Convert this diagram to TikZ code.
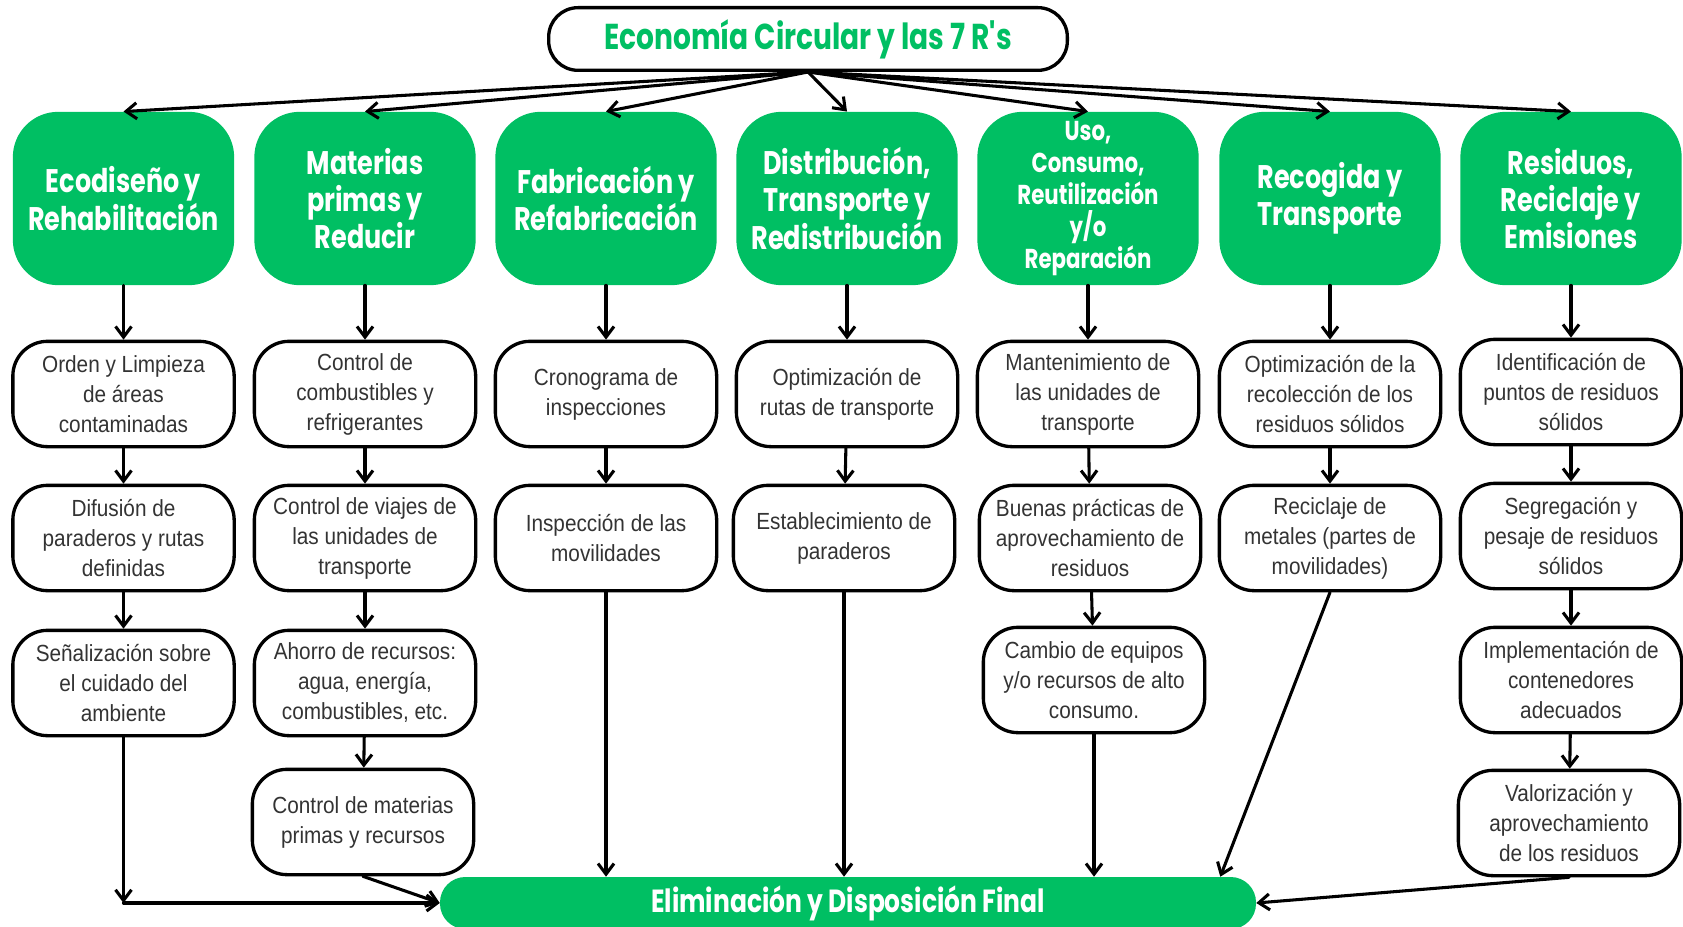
\documentclass[tikz,border=0pt]{standalone}
\usepackage{fontspec}
\setmainfont{Liberation Sans}[FakeStretch=0.89]
\newfontfamily\rotulo{Poppins}[FakeStretch=0.78]
\usetikzlibrary{arrows.meta}
\definecolor{verde}{HTML}{00BF63}
\definecolor{grist}{HTML}{333333}
\begin{document}
\begin{tikzpicture}[>={Straight Barb[length=8pt,width=12pt]}, x=0.75pt, y=-0.75pt, line join=round, line cap=round,
 titulo/.style={draw, line width=2.5pt, rounded corners=22pt, fill=white, minimum width=389pt, minimum height=47pt, text=verde, font=\rotulo\bfseries\fontsize{27}{30}\selectfont},
 etapa/.style={fill=verde, rounded corners=34pt, minimum width=166pt, minimum height=130pt, inner sep=2pt, align=center, text=white, font=\rotulo\bfseries\fontsize{24.5}{28}\selectfont},
 accion/.style={draw, line width=2.5pt, rounded corners=26pt, minimum width=166pt, minimum height=79pt, inner sep=1pt, align=center, text=grist, font=\fontsize{17.5}{22.5}\selectfont},
 final/.style={fill=verde, rounded corners=19pt, minimum width=612pt, minimum height=39pt, text=white, font=\rotulo\bfseries\fontsize{24}{28}\selectfont},
 flecha/.style={->, line width=2.3pt}]
\useasboundingbox (0,0) rectangle (1683,927);
\clip (0,0) rectangle (1683,927);
% titulo
\node[titulo] (tit) at (808,39) {Economía Circular y las 7 R's};
% las 7 etapas
\node[etapa] (e1) at (123.5,198.5) {Ecodiseño y\\Rehabilitación};
\node[etapa] (e2) at (365,198.5) {Materias\\primas y\\Reducir};
\node[etapa] (e3) at (606,198.5) {Fabricación y\\Refabricación};
\node[etapa] (e4) at (847,198.5) {Distribución,\\Transporte y\\Redistribución};
\node[etapa, font=\rotulo\bfseries\fontsize{20.5}{24}\selectfont] (e5) at (1088,198.5) {Uso,\\Consumo,\\Reutilización\\y/o\\Reparación};
\node[etapa] (e6) at (1330,198.5) {Recogida y\\Transporte};
\node[etapa] (e7) at (1571,198.5) {Residuos,\\Reciclaje y\\Emisiones};
% acciones de cada etapa
\node[accion] (a11) at (123.5,394) {Orden y Limpieza\\de áreas\\contaminadas};
\node[accion] (a12) at (123.5,538) {Difusión de\\paraderos y rutas\\definidas};
\node[accion] (a13) at (123.5,683) {Señalización sobre\\el cuidado del\\ambiente};
\node[accion] (a21) at (365,394) {Control de\\combustibles y\\refrigerantes};
\node[accion] (a22) at (365,538) {Control de viajes de\\las unidades de\\transporte};
\node[accion] (a23) at (365,683) {Ahorro de recursos:\\agua, energía,\\combustibles, etc.};
\node[accion] (a24) at (363,822) {Control de materias\\primas y recursos};
\node[accion] (a31) at (606,394) {Cronograma de\\inspecciones};
\node[accion] (a32) at (606,538) {Inspección de las\\movilidades};
\node[accion] (a41) at (847,394) {Optimización de\\rutas de transporte};
\node[accion] (a42) at (844,538) {Establecimiento de\\paraderos};
\node[accion] (a51) at (1088,394) {Mantenimiento de\\las unidades de\\transporte};
\node[accion] (a52) at (1090,538) {Buenas prácticas de\\aprovechamiento de\\residuos};
\node[accion] (a53) at (1094,680) {Cambio de equipos\\y/o recursos de alto\\consumo.};
\node[accion] (a61) at (1330,394) {Optimización de la\\recolección de los\\residuos sólidos};
\node[accion] (a62) at (1330,538) {Reciclaje de\\metales (partes de\\movilidades)};
\node[accion] (a71) at (1571,392) {Identificación de\\puntos de residuos\\sólidos};
\node[accion] (a72) at (1571,536) {Segregación y\\pesaje de residuos\\sólidos};
\node[accion] (a73) at (1571,680) {Implementación de\\contenedores\\adecuados};
\node[accion] (a74) at (1569,823) {Valorización y\\aprovechamiento\\de los residuos};
% destino final
\node[final] (fin) at (848,903) {Eliminación y Disposición Final};
% flechas
\foreach \i in {1,...,7}
{\draw[flecha] (tit.south) -- (e\i.north);
 \draw[flecha] (e\i.south) -- (a\i1.north);}
\foreach \a/\b in {a11/a12,a12/a13,a21/a22,a22/a23,a23/a24,a31/a32,a41/a42,a51/a52,a52/a53,a61/a62,a71/a72,a72/a73,a73/a74}
\draw[flecha] (\a) -- (\b);
\coordinate (esq) at (a13.south |- fin.west);
\draw[flecha] (a13.south) -- (esq);
\draw[flecha] (esq) -- (fin.west);
\draw[flecha] (a24.south) -- (fin.west);
\draw[flecha] (a32.south) -- (a32.south |- fin.north);
\draw[flecha] (a42.south) -- (a42.south |- fin.north);
\draw[flecha] (a53.south) -- (a53.south |- fin.north);
\draw[flecha] (a62.south) -- ([xshift=-27pt]fin.north east);
\draw[flecha] (a74.south) -- (fin.east);
\end{tikzpicture}
\end{document}
